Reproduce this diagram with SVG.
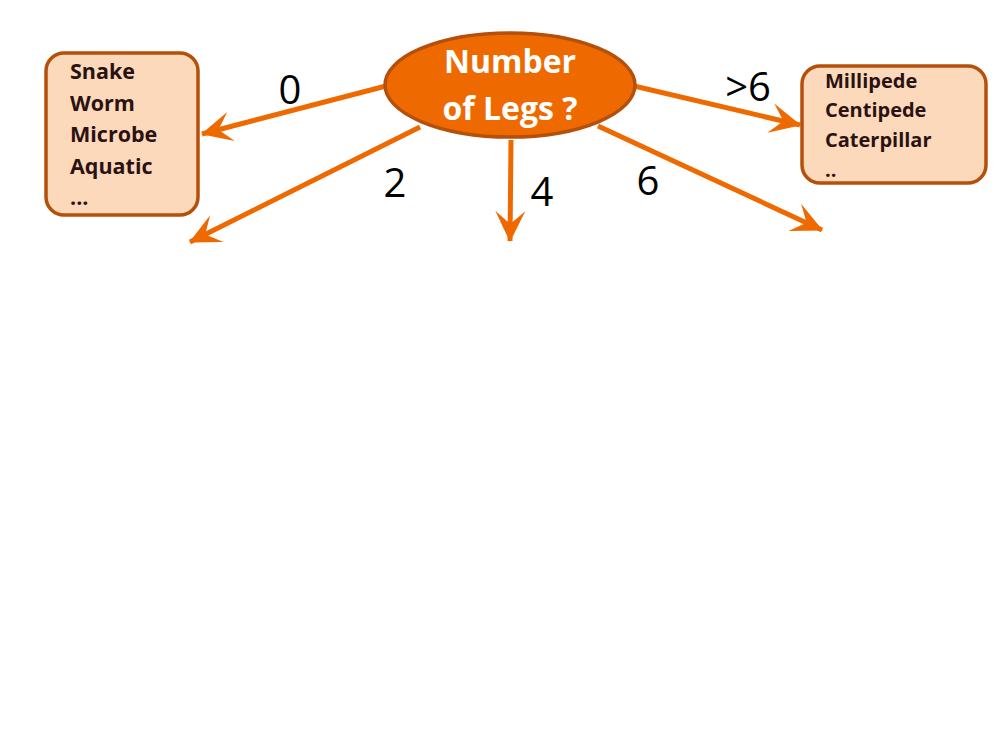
<svg xmlns="http://www.w3.org/2000/svg" width="1000" height="736" viewBox="0 0 1000 736">
<style>
.conn{stroke:#EE6A00;stroke-width:5;fill:none;marker-end:url(#ah)}
.box{fill:#FBD9BA;stroke:#B5500A;stroke-width:3.5}
.bt{font-family:"Open Sans","Liberation Sans",sans-serif;font-weight:bold;fill:#2B1212}
.lbl{font-family:"Open Sans","Liberation Sans",sans-serif;font-size:40px;fill:#000;text-anchor:middle}
.et{font-family:"Open Sans","Liberation Sans",sans-serif;font-weight:bold;font-size:32px;fill:#fff;text-anchor:middle}
</style>
<defs>
<marker id="ah" markerUnits="userSpaceOnUse" viewBox="-32 -16 34 32" refX="0" refY="0" markerWidth="34" markerHeight="32" orient="auto">
<path d="M1,0 L-30,-15 L-17,0 L-30,15 Z" fill="#EE6A00"/>
</marker>
</defs>
<rect width="1000" height="736" fill="#fff"/>
<g id="connectors">
<line class="conn" x1="386" y1="86" x2="202" y2="134"/>
<line class="conn" x1="420" y1="127" x2="190" y2="242"/>
<line class="conn" x1="511" y1="140" x2="510" y2="241"/>
<line class="conn" x1="598" y1="126" x2="822" y2="230"/>
<line class="conn" x1="634" y1="86" x2="800" y2="125"/>
<text class="lbl" x="290" y="104">0</text>
<text class="lbl" x="395" y="197">2</text>
<text class="lbl" x="542" y="206">4</text>
<text class="lbl" x="648" y="195">6</text>
<text class="lbl" x="748" y="101">&gt;6</text>
</g>
<g id="root">
<ellipse cx="510" cy="85" rx="125" ry="52" fill="#EE6A00" stroke="#B5500A" stroke-width="3.5"/>
<text class="et" x="510" y="73">Number</text>
<text class="et" x="510" y="120">of Legs ?</text>
</g>
<g id="legs0">
<rect class="box" x="46" y="53" width="152" height="162" rx="18"/>
<text class="bt" font-size="21.5" x="70" y="79">Snake</text>
<text class="bt" font-size="21.5" x="70" y="111">Worm</text>
<text class="bt" font-size="21.5" x="70" y="142">Microbe</text>
<text class="bt" font-size="21.5" x="70" y="174">Aquatic</text>
<text class="bt" font-size="21.5" x="70" y="205">...</text>
</g>
<g id="legsMore6">
<rect class="box" x="802" y="66" width="184" height="117" rx="18"/>
<text class="bt" font-size="20" x="825" y="88">Millipede</text>
<text class="bt" font-size="20" x="825" y="117">Centipede</text>
<text class="bt" font-size="20" x="825" y="147">Caterpillar</text>
<text class="bt" font-size="20" x="825" y="177">..</text>
</g>
</svg>
